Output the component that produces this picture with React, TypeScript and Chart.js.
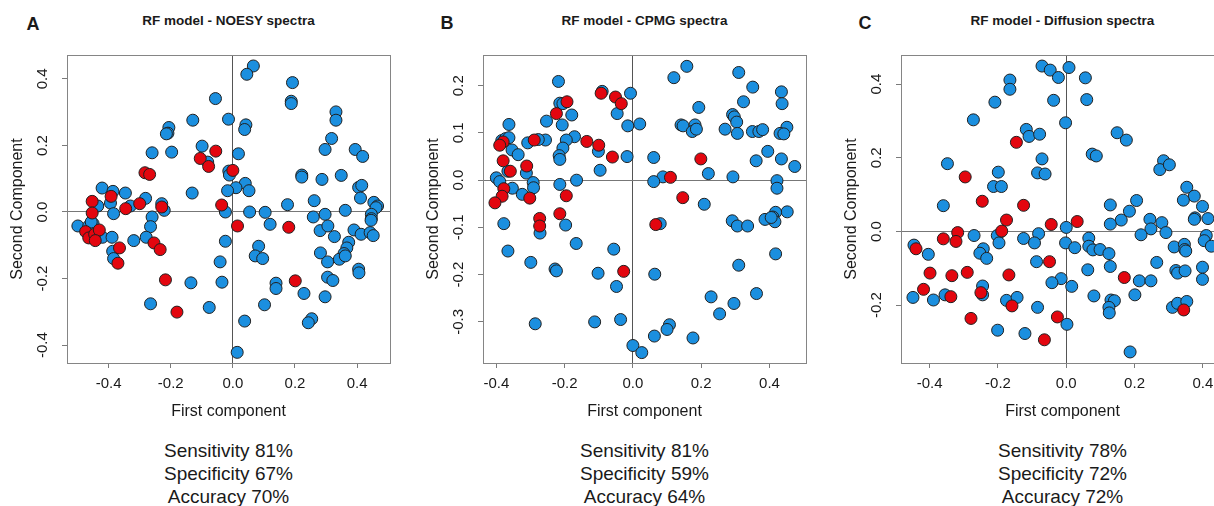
import React, { useEffect, useRef } from "react";
import { Chart, registerables } from "chart.js";

Chart.register(...registerables);

const FONT = "'Liberation Sans', Arial, Helvetica, sans-serif";
Chart.defaults.font.family = FONT;

// ---------- data ----------
const panelLetters = ["A", "B", "C"];
const panelTitles = [
  "RF model - NOESY spectra",
  "RF model - CPMG spectra",
  "RF model - Diffusion spectra",
];
const xAxisTitle = "First component";
const yAxisTitle = "Second Component";

const sensitivity = [81, 81, 78];
const specificity = [67, 59, 72];
const accuracy = [70, 64, 72];

const xTicks = [-0.4, -0.2, 0, 0.2, 0.4];
const yTicksA = [-0.4, -0.2, 0, 0.2, 0.4];
const yTicksB = [-0.3, -0.2, -0.1, 0, 0.1, 0.2];
const yTicksC = [-0.2, 0, 0.2, 0.4];

const xRangeA = [-0.534, 0.506];
const yRangeA = [-0.454, 0.472];
const xRangeB = [-0.439, 0.507];
const yRangeB = [-0.387, 0.265];
const xRangeC = [-0.484, 0.462];
const yRangeC = [-0.357, 0.479];

type P = [number, number];

const noesyBlue: P[] = [
  [0.066, 0.439], [0.045, 0.414], [0.192, 0.389], [0.188, 0.333], [0.188, 0.326],
  [-0.056, 0.341], [0.332, 0.301], [0.332, 0.276], [-0.014, 0.279], [-0.129, 0.276],
  [0.042, 0.262], [0.038, 0.248], [-0.206, 0.254], [-0.209, 0.237], [-0.214, 0.235],
  [0.318, 0.221], [-0.099, 0.198], [-0.197, 0.18], [-0.26, 0.178], [0.018, 0.175],
  [0.297, 0.188], [0.394, 0.188], [0.418, 0.167], [-0.081, 0.15], [-0.013, 0.123],
  [-0.011, 0.111], [0.222, 0.111], [0.222, 0.105], [0.287, 0.098], [0.349, 0.11],
  [0.04, 0.086], [0.01, 0.073], [-0.017, 0.064], [0.052, 0.064], [0.405, 0.074],
  [0.415, 0.08], [-0.131, 0.057], [-0.421, 0.072], [-0.386, 0.062], [-0.346, 0.057],
  [-0.281, 0.041], [0.411, 0.042], [0.262, 0.034], [0.176, 0.022], [0.454, 0.029],
  [0.466, 0.018], [0.461, 0.013], [-0.435, 0.018], [-0.394, 0.027], [-0.384, -0.005],
  [-0.33, 0.018], [-0.229, 0.025], [-0.221, 0.005], [-0.024, 0.0], [0.054, 0.0],
  [0.104, -0.001], [0.362, 0.005], [0.259, -0.015], [0.297, -0.007], [0.446, -0.007],
  [0.446, -0.02], [0.445, -0.025], [-0.26, -0.015], [-0.265, -0.044], [-0.499, -0.042],
  [-0.464, -0.042], [-0.45, -0.035], [-0.456, -0.03], [-0.42, -0.076], [-0.389, -0.076],
  [-0.279, -0.076], [-0.319, -0.086], [0.12, -0.037], [0.281, -0.056], [0.306, -0.042],
  [0.327, -0.074], [0.39, -0.054], [0.413, -0.067], [0.442, -0.062], [0.452, -0.071],
  [-0.024, -0.088], [0.373, -0.091], [0.367, -0.108], [0.358, -0.125], [0.343, -0.142],
  [0.362, -0.132], [0.083, -0.103], [0.072, -0.132], [0.096, -0.14], [-0.387, -0.118],
  [-0.384, -0.14], [0.282, -0.123], [0.305, -0.15], [-0.041, -0.15], [0.405, -0.172],
  [0.406, -0.183], [0.305, -0.196], [0.322, -0.206], [0.139, -0.214], [0.139, -0.23],
  [-0.135, -0.213], [-0.035, -0.211], [0.229, -0.245], [0.297, -0.255], [-0.265, -0.276],
  [-0.076, -0.287], [0.102, -0.279], [0.254, -0.321], [0.243, -0.333], [0.038, -0.328],
  [0.014, -0.422],
];
const noesyRed: P[] = [
  [-0.055, 0.183], [-0.105, 0.161], [-0.078, 0.137], [0.0, 0.125], [-0.283, 0.118],
  [-0.268, 0.113], [-0.392, 0.047], [-0.453, 0.032], [-0.453, -0.003], [-0.3, 0.025],
  [-0.345, 0.01], [-0.229, 0.015], [-0.036, 0.021], [0.015, -0.042], [0.18, -0.046],
  [-0.474, -0.059], [-0.464, -0.078], [-0.445, -0.067], [-0.43, -0.054], [-0.443, -0.086],
  [-0.254, -0.093], [-0.234, -0.113], [-0.365, -0.108], [-0.37, -0.154], [-0.217, -0.204],
  [0.201, -0.207], [-0.18, -0.301],
];

const cpmgBlue: P[] = [
  [0.158, 0.241], [0.12, 0.217], [0.31, 0.228], [-0.218, 0.209], [0.351, 0.197],
  [-0.09, 0.188], [-0.007, 0.184], [0.435, 0.187], [0.324, 0.166], [0.437, 0.162],
  [-0.214, 0.163], [-0.205, 0.162], [0.193, 0.154], [-0.179, 0.138], [-0.046, 0.141],
  [0.292, 0.139], [0.297, 0.134], [0.304, 0.123], [-0.253, 0.125], [0.02, 0.119],
  [-0.015, 0.115], [-0.207, 0.117], [-0.363, 0.118], [0.141, 0.117], [0.147, 0.115],
  [0.182, 0.117], [0.174, 0.103], [0.186, 0.108], [0.27, 0.108], [0.306, 0.099],
  [0.35, 0.103], [0.369, 0.103], [0.38, 0.107], [0.451, 0.112], [0.431, 0.099],
  [0.442, 0.098], [-0.171, 0.092], [-0.195, 0.085], [-0.256, 0.085], [-0.277, 0.086],
  [-0.384, 0.084], [-0.373, 0.088], [-0.363, 0.09], [-0.308, 0.079], [-0.205, 0.068],
  [0.395, 0.061], [-0.101, 0.061], [-0.354, 0.064], [-0.336, 0.054], [-0.216, 0.052],
  [-0.214, 0.044], [-0.017, 0.05], [0.061, 0.048], [0.435, 0.045], [0.361, 0.041],
  [0.474, 0.029], [-0.096, 0.021], [0.221, 0.014], [-0.312, 0.015], [-0.366, 0.019],
  [0.293, 0.007], [-0.4, 0.005], [0.088, 0.007], [-0.39, -0.003], [-0.292, -0.005],
  [-0.291, -0.016], [-0.165, 0.0], [0.061, -0.003], [0.422, -0.001], [0.422, -0.017],
  [-0.214, -0.009], [-0.353, -0.017], [-0.324, -0.03], [0.209, -0.051], [0.452, -0.067],
  [0.418, -0.068], [0.41, -0.078], [0.416, -0.088], [0.387, -0.083], [0.405, -0.079],
  [0.291, -0.086], [0.306, -0.097], [0.336, -0.097], [-0.378, -0.092], [-0.197, -0.095],
  [0.08, -0.092], [-0.272, -0.112], [-0.166, -0.134], [-0.366, -0.15], [0.418, -0.156],
  [-0.056, -0.146], [-0.299, -0.174], [0.31, -0.18], [-0.228, -0.188], [-0.224, -0.192],
  [-0.102, -0.197], [0.064, -0.199], [-0.048, -0.225], [0.229, -0.247], [0.362, -0.24],
  [0.296, -0.261], [0.254, -0.283], [-0.286, -0.304], [-0.112, -0.3], [-0.036, -0.295],
  [0.107, -0.306], [0.1, -0.316], [0.063, -0.33], [0.176, -0.334], [0.0, -0.35],
  [0.026, -0.365],
];
const cpmgRed: P[] = [
  [-0.093, 0.184], [-0.051, 0.176], [-0.034, 0.162], [-0.193, 0.166], [-0.224, 0.141],
  [-0.289, 0.085], [-0.135, 0.082], [-0.1, 0.074], [-0.38, 0.081], [-0.39, 0.074],
  [-0.38, 0.041], [-0.06, 0.049], [0.199, 0.045], [-0.359, 0.019], [-0.311, 0.03],
  [0.11, 0.006], [-0.378, -0.018], [-0.383, -0.034], [-0.404, -0.048], [-0.302, -0.038],
  [-0.195, -0.033], [0.146, -0.037], [-0.214, -0.071], [-0.273, -0.081], [-0.273, -0.097],
  [0.067, -0.094], [-0.027, -0.193],
];

const diffBlue: P[] = [
  [-0.071, 0.449], [-0.047, 0.438], [0.008, 0.445], [-0.023, 0.418], [0.056, 0.417],
  [-0.165, 0.411], [-0.165, 0.386], [-0.209, 0.351], [-0.037, 0.356], [0.06, 0.358],
  [-0.002, 0.295], [-0.272, 0.303], [-0.117, 0.277], [-0.109, 0.258], [-0.078, 0.264],
  [0.149, 0.268], [0.176, 0.248], [0.076, 0.21], [0.088, 0.205], [-0.071, 0.197],
  [-0.348, 0.184], [0.285, 0.192], [0.274, 0.168], [0.302, 0.181], [-0.084, 0.159],
  [-0.062, 0.156], [-0.199, 0.161], [-0.213, 0.122], [-0.19, 0.122], [0.353, 0.12],
  [0.375, 0.096], [0.343, 0.085], [0.206, 0.084], [0.129, 0.072], [-0.36, 0.07],
  [0.399, 0.068], [0.185, 0.055], [0.377, 0.037], [0.375, 0.033], [0.415, 0.035],
  [0.161, 0.031], [0.245, 0.033], [0.129, 0.02], [0.28, 0.024], [0.248, 0.007],
  [0.0, 0.011], [-0.27, -0.011], [-0.202, -0.011], [-0.197, -0.031], [-0.081, -0.006],
  [0.219, -0.009], [0.292, -0.003], [0.41, -0.011], [0.404, -0.025], [0.425, -0.04],
  [-0.125, -0.019], [-0.093, -0.031], [0.066, -0.018], [0.066, -0.04], [0.078, -0.05],
  [0.099, -0.049], [-0.002, -0.031], [0.025, -0.044], [0.316, -0.042], [0.346, -0.035],
  [0.347, -0.049], [0.35, -0.053], [-0.404, -0.062], [-0.243, -0.047], [-0.253, -0.059],
  [-0.233, -0.073], [0.125, -0.06], [-0.446, -0.037], [-0.087, -0.082], [0.265, -0.084],
  [0.129, -0.095], [0.399, -0.097], [0.063, -0.104], [0.321, -0.106], [0.326, -0.113],
  [0.348, -0.107], [0.399, -0.13], [0.214, -0.134], [0.248, -0.134], [-0.015, -0.128],
  [-0.042, -0.139], [0.016, -0.149], [-0.245, -0.148], [-0.355, -0.172], [-0.245, -0.172],
  [0.081, -0.175], [0.201, -0.172], [-0.449, -0.179], [-0.389, -0.186], [-0.175, -0.187],
  [-0.144, -0.179], [0.131, -0.186], [0.141, -0.188], [0.125, -0.206], [0.126, -0.221],
  [0.311, -0.206], [0.326, -0.195], [0.353, -0.19], [-0.084, -0.206], [-0.201, -0.268],
  [-0.121, -0.277], [0.002, -0.252], [0.187, -0.327],
];
const diffRed: P[] = [
  [-0.146, 0.242], [-0.296, 0.148], [-0.246, 0.082], [-0.125, 0.071], [-0.175, 0.031],
  [-0.189, 0.001], [-0.044, 0.019], [0.032, 0.027], [-0.318, -0.003], [-0.36, -0.02],
  [-0.323, -0.027], [-0.44, -0.047], [-0.399, -0.113], [-0.335, -0.12], [-0.29, -0.111],
  [-0.168, -0.118], [-0.049, -0.082], [0.17, -0.125], [-0.418, -0.157], [-0.338, -0.177],
  [-0.25, -0.166], [-0.159, -0.202], [-0.026, -0.232], [-0.279, -0.236], [-0.064, -0.294],
  [0.344, -0.213],
];

// ---------- styling / layout ----------
const BLUE = "#1b8fdf";
const RED = "#e3060f";
const OUTLINE = "#202020";
const TEXT = "#1a1a1a";

interface Panel {
  blue: P[];
  red: P[];
  xRange: number[];
  yRange: number[];
  yTicks: number[];
  plotLeft: number;
}

const panels: Panel[] = [
  { blue: noesyBlue, red: noesyRed, xRange: xRangeA, yRange: yRangeA, yTicks: yTicksA, plotLeft: 67 },
  { blue: cpmgBlue, red: cpmgRed, xRange: xRangeB, yRange: yRangeB, yTicks: yTicksB, plotLeft: 483 },
  { blue: diffBlue, red: diffRed, xRange: xRangeC, yRange: yRangeC, yTicks: yTicksC, plotLeft: 901 },
];

const Y_AXIS_W = 67;
const X_AXIS_H = 67;
const PLOT_W = 323;
const PAD_R = 10;
const CANVAS_TOP = 40;
const CANVAS_H = 390;
const CANVAS_W = Y_AXIS_W + PLOT_W + PAD_R;

const boxPlugin = {
  id: "rbox",
  afterDatasetsDraw(chart: any) {
    const { ctx, chartArea } = chart;
    ctx.save();
    ctx.strokeStyle = "#858585";
    ctx.lineWidth = 1;
    ctx.strokeRect(
      Math.round(chartArea.left) + 0.5,
      Math.round(chartArea.top) + 0.5,
      Math.round(chartArea.right - chartArea.left),
      Math.round(chartArea.bottom - chartArea.top)
    );
    ctx.restore();
  },
};

function PanelChart({ p }: { p: Panel }) {
  const ref = useRef<HTMLCanvasElement | null>(null);
  useEffect(() => {
    if (!ref.current) return;
    const pt = { pointRadius: 6, pointHoverRadius: 6, borderWidth: 1, borderColor: OUTLINE };
    const chart = new Chart(ref.current, {
      type: "scatter",
      data: {
        datasets: [
          { label: "red", data: p.red.map(([x, y]) => ({ x, y })), backgroundColor: RED, order: 0, ...pt },
          { label: "blue", data: p.blue.map(([x, y]) => ({ x, y })), backgroundColor: BLUE, order: 1, ...pt },
        ],
      },
      options: {
        animation: false,
        responsive: true,
        maintainAspectRatio: false,
        layout: { padding: { top: 8, right: PAD_R, bottom: 0, left: 0 } },
        plugins: { legend: { display: false }, tooltip: { enabled: false } },
        scales: {
          x: {
            type: "linear",
            min: p.xRange[0],
            max: p.xRange[1],
            afterBuildTicks: (s: any) => {
              s.ticks = xTicks.map((v) => ({ value: v }));
            },
            afterFit: (s: any) => {
              s.height = X_AXIS_H;
            },
            border: { display: false },
            grid: {
              drawOnChartArea: true,
              color: (c: any) => (c.tick && c.tick.value === 0 ? "#555" : "rgba(0,0,0,0)"),
              tickColor: "#7a7a7a",
              tickLength: 5,
            },
            ticks: {
              autoSkip: false,
              maxRotation: 0,
              padding: 7,
              color: TEXT,
              font: { size: 15, family: FONT },
              callback: (v: any) => Number(v).toFixed(1),
            },
            title: {
              display: true,
              text: xAxisTitle,
              color: TEXT,
              font: { size: 16, family: FONT },
              padding: { top: 0, bottom: 9 },
            },
          },
          y: {
            type: "linear",
            min: p.yRange[0],
            max: p.yRange[1],
            afterBuildTicks: (s: any) => {
              s.ticks = p.yTicks.map((v) => ({ value: v }));
            },
            afterFit: (s: any) => {
              s.width = Y_AXIS_W;
            },
            border: { display: false },
            grid: {
              drawOnChartArea: true,
              color: (c: any) => (c.tick && c.tick.value === 0 ? "#777" : "rgba(0,0,0,0)"),
              tickColor: "#7a7a7a",
              tickLength: 5,
            },
            ticks: {
              autoSkip: false,
              minRotation: 90,
              maxRotation: 90,
              crossAlign: "center",
              padding: 6,
              color: TEXT,
              font: { size: 15, family: FONT },
              callback: (v: any) => Number(v).toFixed(1),
            },
            title: {
              display: true,
              text: yAxisTitle,
              color: TEXT,
              font: { size: 16, family: FONT },
              padding: { top: 8, bottom: 0 },
            },
          },
        },
      } as any,
      plugins: [boxPlugin],
    });
    return () => chart.destroy();
  }, [p]);
  return (
    <div
      style={{
        position: "absolute",
        left: p.plotLeft - Y_AXIS_W,
        top: CANVAS_TOP,
        width: CANVAS_W,
        height: CANVAS_H,
      }}
    >
      <canvas ref={ref} />
    </div>
  );
}

const letterPos = [
  [33, 24],
  [447, 23],
  [865, 23],
];

export default function App() {
  return (
    <div
      style={{
        position: "fixed",
        left: 0,
        top: 0,
        width: 1214,
        height: 506,
        overflow: "hidden",
        background: "#fff",
        fontFamily: FONT,
        color: TEXT,
      }}
    >
      {panels.map((p, i) => {
        const cx = p.plotLeft + PLOT_W / 2;
        return (
          <React.Fragment key={i}>
            <PanelChart p={p} />
            <div
              style={{
                position: "absolute",
                left: letterPos[i][0] - 20,
                top: letterPos[i][1] - 11,
                width: 40,
                lineHeight: "22px",
                textAlign: "center",
                fontWeight: "bold",
                fontSize: 18,
              }}
            >
              {panelLetters[i]}
            </div>
            <div
              style={{
                position: "absolute",
                left: cx - 200,
                top: 21 - 9,
                width: 400,
                lineHeight: "18px",
                textAlign: "center",
                fontWeight: "bold",
                fontSize: 13.5,
              }}
            >
              {panelTitles[i]}
            </div>
            <div
              style={{
                position: "absolute",
                left: cx - 200,
                top: 450 - 11.5,
                width: 400,
                lineHeight: "23px",
                textAlign: "center",
                fontSize: 19,
              }}
            >
              <div>Sensitivity {sensitivity[i]}%</div>
              <div>Specificity {specificity[i]}%</div>
              <div>Accuracy {accuracy[i]}%</div>
            </div>
          </React.Fragment>
        );
      })}
    </div>
  );
}
